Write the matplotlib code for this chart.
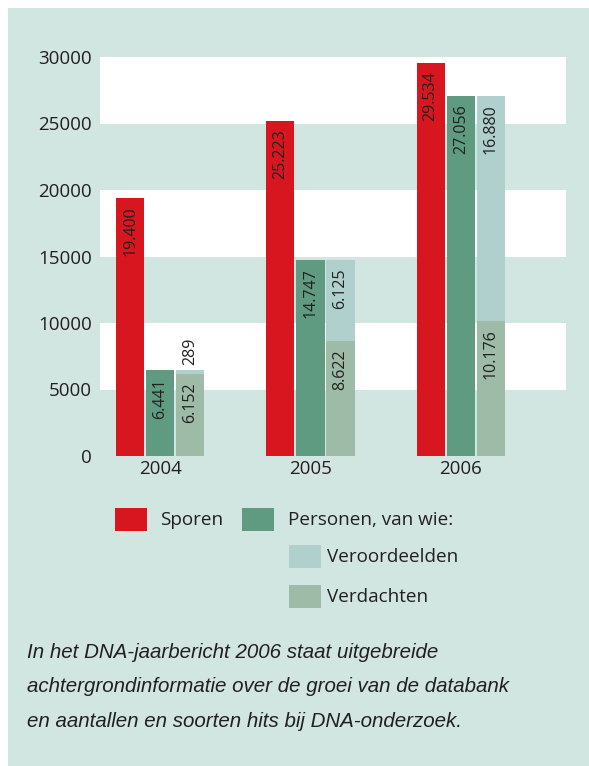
import matplotlib
matplotlib.use("Agg")
import matplotlib.pyplot as plt
from matplotlib.patches import Rectangle
import numpy as np

# data
jaren = ["2004", "2005", "2006"]
sporen = [19400, 25223, 29534]
personen = [6441, 14747, 27056]
verdachten = [6152, 8622, 10176]
veroordeelden = [289, 6125, 16880]

labels_sporen = ["19.400", "25.223", "29.534"]
labels_personen = ["6.441", "14.747", "27.056"]
labels_verdachten = ["6.152", "8.622", "10.176"]
labels_veroordeelden = ["289", "6.125", "16.880"]

rood = "#d7161f"
groen = "#5e9b80"
lichtblauw = "#b0d0ce"
grijsgroen = "#9dbba6"
paneel = "#d1e6e0"
tekst = "#231f20"

plt.rcParams["font.family"] = ["Open Sans", "DejaVu Sans"]

W, H = 589, 766
fig = plt.figure(figsize=(W / 100, H / 100), dpi=100)
fig.patch.set_facecolor("white")

# groene achtergrond van het kader
fig.add_artist(Rectangle((8 / W, 0), 1 - 8 / W, 1 - 8 / H, transform=fig.transFigure,
                         facecolor=paneel, edgecolor="none", zorder=0))

ax = fig.add_axes([100 / W, (H - 456) / H, 466 / W, 399 / H])
ax.set_facecolor("white")

# afwisselende banden
for lo in (0, 10000, 20000):
    ax.axhspan(lo, lo + 5000, color=paneel, lw=0, zorder=0)

x = np.arange(len(jaren))
w = 0.187
off = 0.2

ax.bar(x - off, sporen, w, color=rood, zorder=2)
ax.bar(x, personen, w, color=groen, zorder=2)
ax.bar(x + off, verdachten, w, color=grijsgroen, zorder=2)
ax.bar(x + off, veroordeelden, w, bottom=verdachten, color=lichtblauw, zorder=2)

lab = dict(rotation=90, ha="center", va="top", fontsize=11.5, color=tekst,
           textcoords="offset points", zorder=3)
for i in range(len(jaren)):
    ax.annotate(labels_sporen[i], (x[i] - off, sporen[i]), xytext=(0, -6), **lab)
    ax.annotate(labels_personen[i], (x[i], personen[i]), xytext=(0, -6), **lab)
    ax.annotate(labels_verdachten[i], (x[i] + off, verdachten[i]), xytext=(0, -6), **lab)
    top = verdachten[i] + veroordeelden[i]
    if veroordeelden[i] < 2000:
        ax.annotate(labels_veroordeelden[i], (x[i] + off, top), xytext=(0, 4),
                    **{**lab, "va": "bottom"})
    else:
        ax.annotate(labels_veroordeelden[i], (x[i] + off, top), xytext=(0, -6), **lab)

ax.set_xlim(-0.4, 2.7)
ax.set_ylim(0, 30000)
ax.set_yticks(range(0, 30001, 5000))
ax.set_xticks(x)
ax.set_xticklabels(jaren)
ax.tick_params(length=0, labelsize=13.5, colors=tekst)
ax.tick_params(axis="y", pad=6)
ax.tick_params(axis="x", pad=3)
for s in ax.spines.values():
    s.set_visible(False)

# legenda
def vak(x0, y0, kleur):
    fig.add_artist(Rectangle((x0 / W, 1 - (y0 + 23) / H), 32 / W, 23 / H,
                             transform=fig.transFigure, facecolor=kleur, edgecolor="none"))

def tx(x0, yc, s):
    fig.text(x0 / W, 1 - yc / H, s, ha="left", va="center", fontsize=13.6, color=tekst)

vak(115, 508, rood)
tx(160, 520, "Sporen")
vak(242, 508, groen)
tx(288, 520, "Personen, van wie:")
vak(289, 545, lichtblauw)
tx(327, 557, "Veroordeelden")
vak(289, 585, grijsgroen)
tx(327, 597, "Verdachten")

# onderschrift
regels = ["In het DNA-jaarbericht 2006 staat uitgebreide",
          "achtergrondinformatie over de groei van de databank",
          "en aantallen en soorten hits bij DNA-onderzoek."]
for k, r in enumerate(regels):
    fig.text(27 / W, 1 - (658 + 34.5 * k) / H, r, ha="left", va="baseline",
             fontsize=14.8, style="italic", color=tekst,
             family=["Liberation Sans Narrow", "Liberation Sans"])

fig.savefig("out.png", dpi=100)
